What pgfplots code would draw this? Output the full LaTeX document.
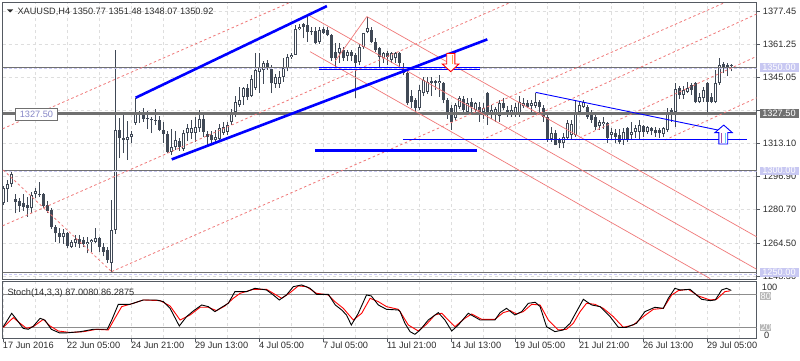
\documentclass[border=0pt]{standalone}
\usepackage{fontspec}
\setmainfont{Liberation Sans}
\usepackage{pgfplots}
\usepackage{pgfplotstable}
\pgfplotsset{compat=1.18}
\definecolor{cdark}{RGB}{64,73,86}
\definecolor{frame}{RGB}{85,90,98}
\definecolor{gridc}{RGB}{222,222,222}
\definecolor{lvl}{RGB}{112,112,112}
\definecolor{lav}{RGB}{200,200,242}
\definecolor{salmon}{RGB}{240,120,120}
\definecolor{txt}{RGB}{45,45,45}
\definecolor{mblue}{RGB}{0,0,255}

\pgfplotstableread{
i O H L C
0 1283.8 1292.0 1283.0 1291.2
1 1290.6 1295.1 1284.6 1293.2
2 1293.1 1299.2 1291.9 1297.9
3 1285.9 1288.3 1278.9 1284.6
4 1284.9 1286.3 1279.7 1282.6
5 1283.8 1288.3 1280.2 1282.2
6 1283.0 1287.0 1277.3 1281.4
7 1281.4 1289.5 1279.0 1287.9
8 1288.2 1291.1 1286.3 1289.8
9 1288.2 1294.3 1287.0 1287.7
10 1288.3 1289.0 1281.5 1282.6
11 1283.0 1284.9 1279.0 1280.2
12 1280.6 1281.5 1271.2 1272.2
13 1272.2 1273.3 1265.1 1269.2
14 1269.5 1271.6 1264.4 1267.6
15 1267.6 1271.3 1264.1 1269.2
16 1269.2 1270.0 1262.0 1263.2
17 1262.7 1266.0 1262.0 1265.1
18 1264.6 1268.3 1262.7 1266.3
19 1266.3 1268.3 1262.0 1264.1
20 1265.8 1267.4 1262.5 1264.0
21 1264.0 1267.6 1259.5 1265.1
22 1264.8 1266.5 1260.0 1265.8
23 1265.1 1271.6 1264.4 1266.8
24 1266.8 1267.3 1260.3 1262.4
25 1262.4 1264.6 1258.0 1260.3
26 1261.1 1262.7 1254.9 1256.2
27 1254.9 1285.4 1250.6 1270.8
28 1270.8 1358.4 1269.0 1319.5
29 1319.5 1325.2 1305.7 1315.5
30 1315.5 1326.8 1308.2 1314.6
31 1314.6 1324.0 1305.0 1316.0
32 1316.0 1319.0 1313.0 1317.5
33 1323.0 1334.9 1322.0 1328.4
34 1328.4 1328.9 1322.8 1326.8
35 1327.3 1330.0 1323.5 1324.9
36 1324.9 1328.9 1319.9 1325.5
37 1324.9 1326.0 1318.0 1324.2
38 1324.5 1329.6 1322.0 1323.8
39 1324.4 1326.3 1318.8 1319.5
40 1319.5 1323.5 1313.0 1317.5
41 1317.5 1318.8 1308.2 1308.9
42 1308.9 1319.8 1307.3 1311.1
43 1311.1 1319.0 1309.7 1314.6
44 1314.3 1315.5 1309.4 1311.1
45 1310.1 1319.4 1309.4 1317.9
46 1317.9 1322.5 1314.0 1320.3
47 1318.2 1324.4 1315.0 1320.3
48 1318.2 1326.0 1313.8 1320.8
49 1320.3 1329.0 1318.6 1324.7
50 1324.7 1327.5 1316.0 1318.7
51 1317.4 1318.8 1312.0 1316.3
52 1317.0 1318.8 1312.0 1314.6
53 1314.6 1319.5 1313.0 1316.3
54 1315.0 1322.5 1314.0 1320.3
55 1318.2 1323.5 1317.0 1321.1
56 1318.7 1323.5 1317.0 1321.9
57 1323.5 1329.6 1322.0 1328.4
58 1328.4 1335.8 1326.0 1333.3
59 1331.6 1340.5 1330.9 1334.1
60 1335.7 1340.5 1331.6 1339.8
61 1339.8 1342.0 1334.0 1335.7
62 1336.0 1346.3 1335.5 1344.3
63 1339.8 1356.8 1339.0 1348.7
64 1347.9 1356.8 1337.4 1349.5
65 1348.7 1353.0 1342.0 1352.0
66 1352.0 1353.5 1348.7 1349.5
67 1349.0 1351.1 1337.4 1342.2
68 1341.9 1346.9 1340.0 1345.1
69 1341.9 1348.0 1340.0 1345.4
70 1345.1 1354.4 1343.0 1349.5
71 1349.5 1356.3 1348.0 1354.9
72 1354.9 1357.0 1354.0 1356.0
73 1356.0 1370.4 1356.0 1368.5
74 1368.5 1371.2 1368.0 1369.8
75 1370.9 1371.6 1364.1 1369.8
76 1370.6 1375.5 1362.5 1367.3
77 1367.8 1369.8 1365.7 1367.0
78 1367.7 1369.8 1361.5 1362.0
79 1362.5 1369.4 1361.5 1368.2
80 1368.5 1369.4 1366.0 1366.8
81 1368.2 1369.4 1365.0 1365.8
82 1365.8 1366.0 1353.0 1354.4
83 1357.6 1361.7 1350.3 1354.4
84 1356.8 1362.0 1352.0 1359.2
85 1358.4 1360.0 1353.0 1354.4
86 1355.5 1358.4 1353.0 1357.6
87 1357.6 1358.4 1353.0 1355.5
88 1356.0 1356.8 1334.9 1352.0
89 1352.7 1361.5 1351.0 1360.0
90 1360.0 1366.8 1359.0 1366.5
91 1367.3 1374.6 1366.5 1369.0
92 1368.2 1369.8 1361.7 1362.5
93 1362.5 1364.1 1357.6 1358.4
94 1359.2 1360.0 1350.3 1355.2
95 1354.4 1357.6 1352.0 1356.8
96 1356.8 1358.0 1351.0 1355.2
97 1353.6 1357.6 1352.0 1356.8
98 1354.4 1357.6 1352.0 1356.8
99 1356.8 1357.6 1349.0 1352.0
100 1350.3 1352.0 1346.3 1347.1
101 1347.1 1348.7 1331.6 1332.5
102 1336.0 1339.0 1330.0 1333.3
103 1334.1 1334.9 1326.8 1330.0
104 1330.0 1341.4 1329.0 1339.0
105 1337.4 1345.4 1336.0 1343.8
106 1338.2 1345.4 1337.0 1343.0
107 1342.5 1345.4 1336.0 1343.3
108 1343.3 1344.0 1339.0 1342.2
109 1342.2 1346.3 1335.7 1343.3
110 1342.2 1343.0 1332.5 1334.1
111 1334.1 1335.0 1325.0 1327.6
112 1330.0 1331.6 1319.5 1323.5
113 1325.2 1332.5 1324.4 1331.6
114 1330.5 1335.8 1329.6 1334.9
115 1334.6 1335.8 1327.0 1329.2
116 1328.4 1334.9 1327.0 1332.5
117 1333.3 1334.9 1327.0 1330.9
118 1329.2 1333.3 1328.0 1332.5
119 1330.9 1333.3 1323.5 1326.8
120 1328.4 1332.5 1325.0 1330.0
121 1337.4 1338.0 1322.0 1326.8
122 1326.8 1331.6 1325.0 1329.2
123 1326.8 1330.9 1323.5 1329.6
124 1326.3 1334.0 1323.5 1332.5
125 1332.5 1334.9 1329.0 1330.0
126 1329.0 1331.0 1326.0 1327.6
127 1327.6 1331.6 1326.0 1329.2
128 1327.6 1332.7 1326.0 1330.9
129 1327.6 1335.8 1326.0 1333.3
130 1331.0 1334.9 1330.0 1332.5
131 1332.5 1334.0 1330.0 1330.9
132 1331.2 1334.0 1328.4 1332.8
133 1331.2 1337.6 1330.0 1333.3
134 1333.3 1334.1 1328.4 1330.9
135 1330.0 1331.6 1323.5 1326.0
136 1326.0 1326.8 1313.8 1315.0
137 1315.0 1321.0 1313.8 1317.9
138 1317.9 1319.5 1312.0 1312.2
139 1315.0 1315.5 1310.6 1313.0
140 1313.0 1318.2 1310.6 1316.3
141 1315.5 1324.4 1315.0 1322.7
142 1317.0 1324.4 1315.0 1322.4
143 1317.0 1334.1 1316.3 1328.4
144 1328.4 1333.7 1327.6 1331.6
145 1330.9 1334.1 1330.0 1333.3
146 1330.9 1331.6 1325.0 1326.0
147 1326.8 1329.2 1323.0 1324.4
148 1326.0 1326.8 1319.5 1321.1
149 1321.5 1324.4 1319.5 1323.5
150 1322.4 1326.0 1320.0 1323.5
151 1322.8 1323.5 1313.0 1315.5
152 1317.0 1320.3 1314.6 1318.7
153 1317.9 1320.0 1313.0 1316.0
154 1317.0 1320.0 1312.5 1313.8
155 1314.6 1320.3 1312.2 1318.7
156 1320.3 1321.1 1313.8 1314.6
157 1317.0 1323.5 1314.6 1318.7
158 1318.7 1322.0 1315.5 1320.3
159 1318.7 1324.4 1314.6 1321.9
160 1321.4 1322.0 1316.0 1318.7
161 1318.7 1321.5 1317.5 1320.8
162 1320.3 1321.0 1317.0 1319.2
163 1319.5 1320.8 1316.0 1317.9
164 1319.5 1320.3 1315.5 1317.9
165 1317.5 1321.1 1316.0 1320.3
166 1319.5 1330.0 1318.7 1328.4
167 1329.2 1330.0 1323.5 1327.3
168 1328.4 1342.2 1321.1 1339.3
169 1339.8 1340.8 1334.5 1336.5
170 1336.5 1341.0 1334.5 1339.0
171 1338.2 1343.0 1337.4 1339.8
172 1341.4 1342.2 1336.5 1339.0
173 1342.2 1343.0 1332.5 1333.3
174 1333.3 1337.4 1332.5 1335.7
175 1334.9 1340.5 1333.3 1339.0
176 1342.2 1343.0 1327.6 1333.3
177 1335.7 1337.4 1332.5 1333.3
178 1333.3 1348.7 1332.5 1342.2
179 1342.2 1354.4 1341.4 1351.1
180 1351.6 1352.7 1347.1 1350.0
181 1351.1 1352.0 1345.8 1350.3
182 1350.77 1351.48 1348.07 1350.92
}\ohlc

\pgfplotstableread{
i v
0 21
2.1 45.5
3.3 34.5
5 18
6.25 16.4
7.5 22
9.2 36.4
10.4 33
12 16.4
14 10
16 10
19.2 12
22.5 16.4
26 16.4
27.1 33
28.75 61.8
31.7 61.8
35 69.7
38.3 69.7
40 66.7
41.7 54.5
44 22.4
45.8 39.4
47.5 49.7
49.6 60.6
51.25 57.6
52.9 48.5
54.6 56.4
56.25 63.6
57.9 84.8
60.8 84.8
62.9 90.9
65.8 87.9
67.5 78.8
69 69.7
70.8 78.8
72.5 93.9
74.6 97
76.7 90.9
78.3 80
81.25 80
83 60.6
84.6 51.5
85.8 42.4
87 24.2
88.75 45.5
90.8 78.8
92 77
93.75 60.6
95.8 52.7
98.75 51.5
99.2 48.5
100.4 27.3
101.7 12
102.9 7.3
104.2 15.2
106.25 33.3
108.75 46.7
110.4 33.3
112.1 13.3
113.75 24.2
116.25 45.5
119.2 33.3
122.9 33.3
124.2 46.7
125.8 54.5
127.9 42.4
129.6 48.5
131.25 63.6
133 65.5
134.2 57.6
135.8 21.2
137.9 12.1
140 15.2
141.7 27.3
143.3 48.5
145 70.9
147.1 60.6
149.2 57.6
151.7 39.4
153.75 20
155.8 20
158.3 27.3
160.4 48.5
162.9 56.4
165 54.5
166.25 72.7
167.9 90.9
169.2 87.9
171.7 89
173.3 78.8
174.6 70.9
176.7 68.5
178 69.7
179.6 87.9
180.8 90.9
182 87.0
}\stochK

\pgfplotstableread{
i v
0 20
2.5 37.6
4.2 27.3
5.8 18.2
7.5 21.2
10 34.5
11.7 22.4
13.75 13.3
16.7 10.6
20 12
23.3 16.4
26.25 15.2
27.9 36.4
29.6 57.6
32.5 63.6
35 69.7
39.2 68.5
41.7 58.8
44.2 33.3
46.7 42.4
49.2 56.4
51.25 56.4
53.3 50.3
55.4 58.8
57.5 72.7
59.2 81.8
62.5 89
65.8 89
67.5 81.8
69.6 72.7
71.7 83
73.75 95.2
75.8 93.9
78.3 81.8
81.25 78.8
82.9 66.7
85 54.5
87.5 33.3
89.6 45.5
91.7 72.7
93.75 66.7
95.8 57.6
98.75 52.7
99.2 48.5
101.25 24.2
103.75 13.3
105.8 25.5
107.9 42.4
109.6 45.5
111.25 33.3
112.9 21.2
115.4 36.4
117.1 44.2
119.6 34.5
122.9 34.5
125 46.7
126.7 50.3
128.3 44.2
130 48.5
132.1 61.8
134.2 60.6
136.25 33.3
138.75 15.2
140.8 16.4
142.5 27.3
144.2 48.5
145.8 63.6
147.9 61.8
150 54.5
152.5 39.4
155 20
157.5 24.2
160 39.4
162.5 52.7
165 54.5
167.1 78.8
168.75 86.7
171.25 89
173.75 77
176.7 69.7
178.3 70.9
180.4 84.8
181.7 86.3
}\stochD

\begin{document}
\fontsize{9.2}{11}\selectfont
\begin{tikzpicture}[x=1pt,y=1pt]
\useasboundingbox (0,0) rectangle (800,-360);
\fill[white] (0,0) rectangle (800,-360);

\begin{axis}[
  at={(2.7pt,-279pt)}, anchor=south west, scale only axis,
  width=754pt, height=276.3pt,
  xmin=-0.15, xmax=188.35, ymin=1246.98, ymax=1381.44,
  axis line style={draw=frame, line width=0.8pt},
  xtick={8,16,...,184}, xticklabels={}, xmajorgrids,
  x tick style={draw=none},
  ytick={1248.30,1264.50,1280.70,1296.90,1313.10,1329.10,1345.05,1361.25,1377.45},
  yticklabels={1248.30,1264.50,1280.70,1296.90,1313.10,,1345.05,1361.25,1377.45},
  ymajorgrids, ytick pos=right, yticklabel pos=right,
  tick align=outside, major tick length=3pt,
  y tick style={draw=frame, line width=0.6pt},
  yticklabel style={font=\fontsize{9.2}{11}\selectfont, text=txt, anchor=west, inner sep=0pt, xshift=3pt},
  grid style={draw=gridc, line width=0.8pt, dash pattern=on 3pt off 3pt},
  clip=true,
]
% wicks
\addplot[draw=none, mark=none, forget plot, error bars/.cd, y dir=plus, y explicit, error mark=none,
  error bar style={draw=cdark, line width=1pt, line cap=butt, solid}]
  table[x=i, y=L, y error plus expr={\thisrow{H}-\thisrow{L}}] {\ohlc};
% bodies
\addplot[draw=none, mark=none, forget plot, error bars/.cd, y dir=plus, y explicit, error mark=none,
  error bar style={draw=cdark, line width=3pt, line cap=butt, solid}]
  table[x=i, y expr={min(\thisrow{O},\thisrow{C})}, y error plus expr={max(abs(\thisrow{C}-\thisrow{O}),0.5)}] {\ohlc};
% hollow interior of bullish bodies
\addplot[draw=none, mark=none, forget plot, restrict expr to domain={\thisrow{C}-\thisrow{O}}{1.0:1000},
  error bars/.cd, y dir=plus, y explicit, error mark=none,
  error bar style={draw=white, line width=1pt, line cap=butt, solid}]
  table[x=i, y expr={\thisrow{O}+0.49}, y error plus expr={\thisrow{C}-\thisrow{O}-0.98}] {\ohlc};

% levels
\addplot[lav, line width=0.8pt, dash pattern=on 3pt off 2pt] coordinates {(-1,1349.4) (190,1349.4)};
\addplot[lav, line width=0.8pt, dash pattern=on 3pt off 2pt] coordinates {(-1,1299.4) (190,1299.4)};
\addplot[lav, line width=0.8pt, dash pattern=on 3pt off 2pt] coordinates {(-1,1249.4) (190,1249.4)};
\addplot[lvl, line width=1pt] coordinates {(-1,1350) (190,1350)};
\addplot[lvl, line width=1pt] coordinates {(-1,1300) (190,1300)};
\addplot[lvl, line width=1pt] coordinates {(-1,1250) (190,1250)};
\addplot[lvl, line width=2.2pt] coordinates {(-1,1327.5) (190,1327.5)};

% ascending dashed lines
\addplot[salmon, line width=0.8pt, dash pattern=on 2.5pt off 2.5pt] coordinates {(-0.15,1320.1) (71.5,1381.44)};
\addplot[salmon, line width=0.8pt, dash pattern=on 2.5pt off 2.5pt] coordinates {(-0.15,1272.9) (126.6,1381.44)};
\addplot[salmon, line width=0.8pt, dash pattern=on 2.5pt off 2.5pt] coordinates {(27.1,1250.6) (180.3,1381.44)};
\addplot[salmon, line width=0.8pt, dash pattern=on 2.5pt off 2.5pt] coordinates {(119.6,1314.6) (188.4,1376.0)};
\addplot[salmon, line width=0.8pt, dash pattern=on 2.5pt off 2.5pt] coordinates {(142.9,1314.6) (188.4,1355.4)};
\addplot[salmon, line width=0.8pt, dash pattern=on 2.5pt off 2.5pt] coordinates {(165.4,1314.6) (188.4,1335.2)};
% descending dashed
\addplot[salmon, line width=0.8pt, dash pattern=on 2.5pt off 2.5pt] coordinates {(0,1300) (27.1,1250.5)};
% descending solid channel
\addplot[salmon, line width=0.7pt] coordinates {(76.25,1375.45) (188.35,1251.7)};
\addplot[salmon, line width=0.7pt] coordinates {(90.9,1374.7) (188.35,1267.5)};
\addplot[salmon, line width=0.7pt] coordinates {(76.7,1357.6) (176.7,1247.2)};
\addplot[salmon, line width=0.7pt] coordinates {(83.0,1353.1) (90.9,1374.7)};

% blue lines
\addplot[mblue, line width=2.6pt] coordinates {(33.1,1335.2) (80.9,1379.8)};
\addplot[mblue, line width=2.6pt] coordinates {(42.1,1305.2) (121.0,1363.6)};
\addplot[mblue, line width=2.6pt] coordinates {(77.9,1309.6) (118.35,1309.6)};
\addplot[mblue, line width=0.9pt] coordinates {(78.9,1349.8) (119.2,1349.8)};
\addplot[mblue, line width=0.9pt] coordinates {(78.9,1348.8) (119.2,1348.8)};
\addplot[mblue, line width=0.9pt] coordinates {(133.1,1337.8) (179.6,1319.1)};
\addplot[mblue, line width=0.9pt] coordinates {(99.9,1314.96) (185.9,1314.96)};
% up arrow (blue, hollow)
\addplot[mblue, line width=0.9pt, fill=white] coordinates {(180.1,1321.9) (177.9,1318.2) (178.9,1318.2) (178.9,1312.7) (181.1,1312.7) (181.1,1318.2) (182.25,1318.2) (180.1,1321.9)};
\addplot[violet!70, line width=0.6pt] coordinates {(179.5,1313.3) (179.5,1318.0)};
\addplot[cyan!60, line width=0.6pt] coordinates {(180.6,1313.3) (180.6,1318.0)};
% down arrow (red, hollow)
\addplot[red, line width=0.9pt, fill=white] coordinates {(110.85,1356.8) (112.9,1356.8) (112.9,1351.6) (113.9,1351.6) (111.85,1347.9) (109.75,1351.6) (110.85,1351.6) (110.85,1356.8)};
\addplot[orange!70, line width=0.6pt] coordinates {(112.3,1356.2) (112.3,1351.8)};
\end{axis}

\begin{axis}[
  at={(2.7pt,-338pt)}, anchor=south west, scale only axis,
  width=754pt, height=56.3pt,
  xmin=-0.15, xmax=188.35, ymin=0.55, ymax=102.9,
  axis line style={draw=frame, line width=0.8pt},
  xtick={0,16,...,176},
  xticklabels={17 Jun 2016,22 Jun 05:00,24 Jun 21:00,29 Jun 13:00,4 Jul 05:00,7 Jul 05:00,11 Jul 21:00,14 Jul 13:00,19 Jul 05:00,21 Jul 21:00,26 Jul 13:00,29 Jul 05:00},
  minor xtick={8,24,...,184},
  xmajorgrids, xminorgrids, xtick pos=bottom,
  ytick=\empty,
  tick align=outside, major tick length=4pt, minor tick length=0pt,
  x tick style={draw=frame, line width=0.6pt},
  xticklabel style={font=\fontsize{9.2}{11}\selectfont, text=txt, anchor=north west, inner sep=0pt, xshift=-0.5pt},
  grid style={draw=gridc, line width=0.8pt, dash pattern=on 3pt off 3pt},
  minor grid style={draw=gridc, line width=0.8pt, dash pattern=on 3pt off 3pt},
]
\addplot[lvl!80, line width=0.8pt] coordinates {(-1,80) (190,80)};
\addplot[lvl!80, line width=0.8pt] coordinates {(-1,20) (190,20)};
\addplot[red, line width=0.9pt] table[x=i, y=v] {\stochD};
\addplot[black, line width=0.9pt] table[x=i, y=v] {\stochK};
\end{axis}

% texts
\fill[txt] (7,-9.3) -- (13.2,-9.3) -- (10.1,-12.6) -- cycle;
\node[anchor=base west, inner sep=0pt, text=txt] at (17.3,-14) {XAUUSD,H4 1350.77 1351.48 1348.07 1350.92};
\node[anchor=base west, inner sep=0pt, text=txt] at (7.3,-295) {Stoch(14,3,3) 87.0080 86.2875};
% right boxes
\node[fill=lav, text=white, inner sep=0pt, minimum height=8.6pt, minimum width=39pt, anchor=west] at (759.3,-67.5) {1350.00};
\node[fill=lvl, text=white, inner sep=0pt, minimum height=9pt, minimum width=39pt, anchor=west] at (759.3,-113.8) {1327.50};
\node[fill=lav, text=white, inner sep=0pt, minimum height=8.6pt, minimum width=39pt, anchor=west] at (759.3,-170.8) {1300.00};
\node[fill=lav, text=white, inner sep=0pt, minimum height=8.6pt, minimum width=39pt, anchor=west] at (759.3,-272.5) {1250.00};
% left box
\node[draw=lvl, line width=0.8pt, fill=white, text=lav!70!blue!60!gray, inner sep=0pt, minimum height=12pt, minimum width=42pt, anchor=west] at (15,-114.5) {1327.50};
% stoch labels
\node[anchor=west, inner sep=0pt, text=txt] at (761.7,-287.5) {100};
\node[fill=lvl!50, text=white, inner sep=0.5pt, anchor=west] at (760,-296) {80};
\node[fill=lvl!50, text=white, inner sep=0.5pt, anchor=west] at (760,-327.3) {20};
\node[anchor=west, inner sep=0pt, text=txt] at (764,-335) {0};
\end{tikzpicture}
\end{document}
